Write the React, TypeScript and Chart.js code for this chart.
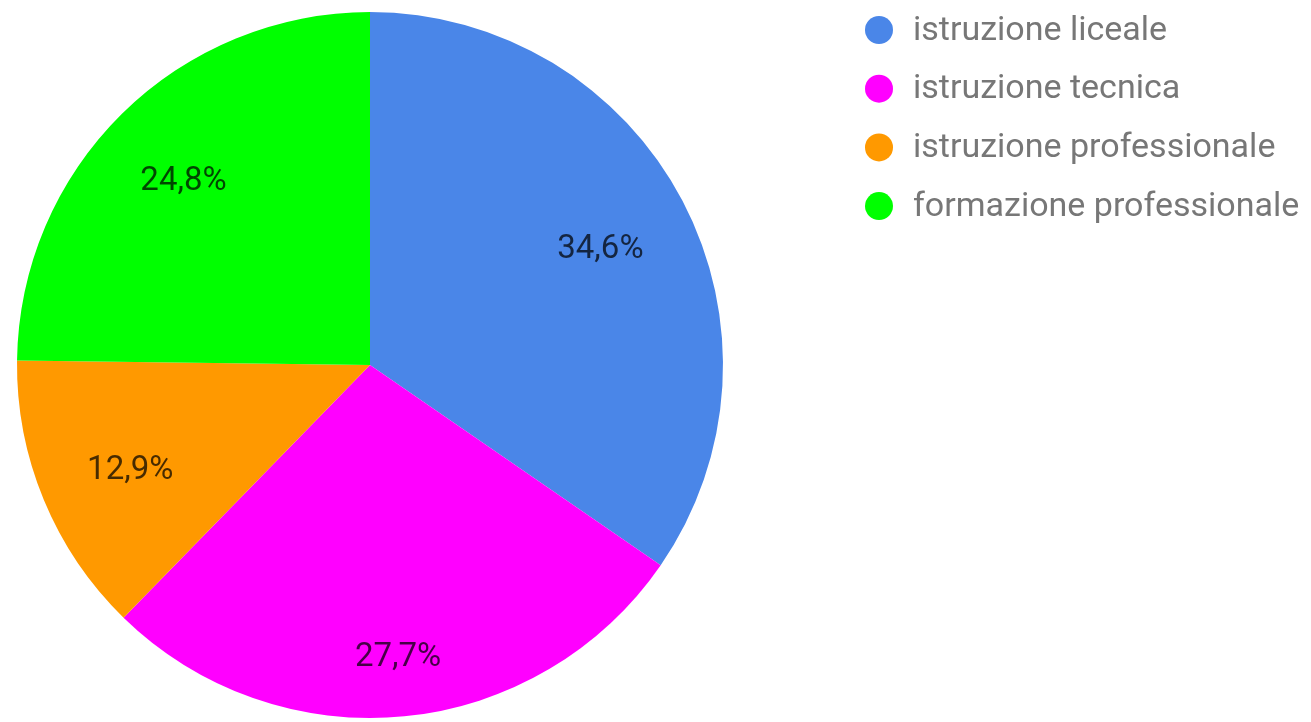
import React, { useEffect, useRef } from "react";
import { Chart, registerables } from "chart.js";

Chart.register(...registerables);

const categories: string[] = [
  "istruzione liceale",
  "istruzione tecnica",
  "istruzione professionale",
  "formazione professionale",
];
const shares: number[] = [34.6, 27.7, 12.9, 24.8];
const sliceColors: string[] = ["#4a86e8", "#ff00ff", "#ff9900", "#00ff00"];

const fmt = (v: number) => v.toFixed(1).replace(".", ",") + "%";

const sliceLabels = {
  id: "sliceLabels",
  afterDatasetsDraw(chart: any) {
    const ctx = chart.ctx as CanvasRenderingContext2D;
    const meta = chart.getDatasetMeta(0);
    const ds = chart.data.datasets[0].data as number[];
    ctx.save();
    ctx.font = "33px Roboto";
    ctx.fillStyle = "rgba(0,0,0,0.72)";
    ctx.textAlign = "center";
    ctx.textBaseline = "middle";
    meta.data.forEach((arc: any, i: number) => {
      const { x, y, startAngle, endAngle, outerRadius } = arc.getProps(
        ["x", "y", "startAngle", "endAngle", "outerRadius"],
        true
      );
      const mid = (startAngle + endAngle) / 2;
      const c = Math.cos(mid);
      const s = Math.sin(mid);
      const txt = fmt(ds[i]);
      const w = ctx.measureText(txt).width;
      const h = 22;
      const dist = outerRadius * 0.86 - (Math.abs(c) * w) / 2 - (Math.abs(s) * h) / 2;
      ctx.fillText(txt, x + c * dist, y + s * dist + 6);
    });
    ctx.restore();
  },
};

const sideLegend = {
  id: "sideLegend",
  afterDraw(chart: any) {
    const ctx = chart.ctx as CanvasRenderingContext2D;
    const labels = chart.data.labels as string[];
    const colors = chart.data.datasets[0].backgroundColor as string[];
    ctx.save();
    ctx.font = "34px Roboto";
    ctx.textAlign = "left";
    ctx.textBaseline = "middle";
    labels.forEach((lab, i) => {
      const cy = 30 + i * 58.7;
      ctx.beginPath();
      ctx.fillStyle = colors[i];
      ctx.arc(879, cy, 14, 0, Math.PI * 2);
      ctx.fill();
      ctx.fillStyle = "#777777";
      ctx.fillText(lab, 913, cy + 1);
    });
    ctx.restore();
  },
};

export default function App() {
  const ref = useRef<HTMLCanvasElement | null>(null);
  useEffect(() => {
    if (!ref.current) return;
    const chart = new Chart(ref.current, {
      type: "pie",
      data: {
        labels: categories,
        datasets: [
          {
            data: shares,
            backgroundColor: sliceColors,
            borderWidth: 0,
          },
        ],
      },
      options: {
        animation: false,
        responsive: true,
        maintainAspectRatio: false,
        layout: { padding: { left: 17, top: 12, right: 588, bottom: 4 } },
        plugins: {
          legend: { display: false },
          tooltip: { enabled: false },
        },
      },
      plugins: [sliceLabels, sideLegend],
    });
    return () => chart.destroy();
  }, []);
  return (
    <div
      style={{
        position: "fixed",
        left: 0,
        top: 0,
        width: 1311,
        height: 722,
        background: "#ffffff",
      }}
    >
      <canvas ref={ref} />
    </div>
  );
}
